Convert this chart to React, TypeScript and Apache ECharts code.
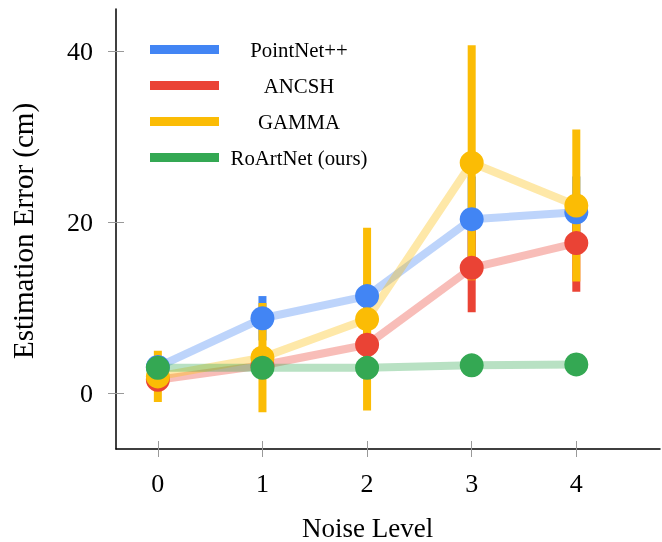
import React, { useEffect, useRef } from "react";
import * as echarts from "echarts";

const levels = [0, 1, 2, 3, 4];
const methodNames = ["PointNet++", "ANCSH", "GAMMA", "RoArtNet (ours)"];
const methodColors = ["#4285F4", "#EA4335", "#FBBC05", "#34A853"];

const pointnetMean = [3.1, 8.8, 11.4, 20.4, 21.2];
const pointnetErr = [0.6, 2.6, 1.5, 5.0, 4.2];
const ancshMean = [1.6, 3.3, 5.7, 14.7, 17.6];
const ancshErr = [0.8, 1.0, 2.0, 5.2, 5.7];
const gammaMean = [2.0, 4.2, 8.7, 27.0, 22.0];
const gammaErr = [3.0, 6.4, 10.7, 13.75, 8.9];
const roartMean = [3.0, 3.0, 3.0, 3.3, 3.4];
const roartErr = [0.5, 0.5, 0.5, 0.5, 0.5];

const yTicks = [0, 20, 40];
const xTicks = [0, 1, 2, 3, 4];

const FONT = "Liberation Serif";

export default function App() {
  const ref = useRef<HTMLDivElement>(null);
  useEffect(() => {
    if (!ref.current) return;
    const chart = echarts.init(ref.current, null, { renderer: "svg" });
    const means = [pointnetMean, ancshMean, gammaMean, roartMean];
    const errs = [pointnetErr, ancshErr, gammaErr, roartErr];

    const errorSeries = methodNames.map((name, i) => ({
      type: "custom",
      name,
      z: 1,
      xAxisIndex: 0,
      yAxisIndex: 0,
      data: levels.map((x, j) => [x, means[i][j] - errs[i][j], means[i][j] + errs[i][j]]),
      encode: { x: 0, y: [1, 2] },
      renderItem: (params: any, api: any) => {
        const x = api.value(0);
        const lo = api.coord([x, api.value(1)]);
        const hi = api.coord([x, api.value(2)]);
        return {
          type: "rect",
          shape: { x: hi[0] - 4, y: hi[1], width: 8, height: lo[1] - hi[1] },
          style: { fill: methodColors[i] },
        };
      },
    }));

    const lineSeries = methodNames.map((name, i) => ({
      type: "line",
      name,
      z: 2,
      showSymbol: false,
      symbol: "none",
      data: levels.map((x, j) => [x, means[i][j]]),
      lineStyle: { color: methodColors[i], width: 8, opacity: 0.35 },
      itemStyle: { color: methodColors[i] },
      emphasis: { disabled: true },
    }));

    const markerSeries = methodNames.map((name, i) => ({
      type: "scatter",
      name,
      z: 3,
      symbol: "circle",
      symbolSize: 24,
      data: levels.map((x, j) => [x, means[i][j]]),
      itemStyle: { color: methodColors[i], opacity: 1 },
      emphasis: { disabled: true },
    }));

    chart.setOption({
      animation: false,
      grid: { left: 116, top: 9, right: 2, bottom: 93, containLabel: false },
      xAxis: [
        {
          type: "value",
          min: -0.4,
          max: 4.8,
          splitLine: { show: false },
          axisLine: { onZero: false, lineStyle: { color: "#000", width: 1.5 } },
          axisTick: { show: true, inside: false, length: 8, customValues: xTicks, lineStyle: { color: "#999", width: 1 } },
          axisLabel: { customValues: xTicks, margin: 21, fontFamily: FONT, fontSize: 26, color: "#000" },
        },
        {
          type: "value",
          min: -0.4,
          max: 4.8,
          position: "bottom",
          splitLine: { show: false },
          axisLine: { show: false, onZero: false },
          axisTick: { show: true, inside: true, length: 8, customValues: xTicks, lineStyle: { color: "#999", width: 1 } },
          axisLabel: { show: false },
        },
      ],
      yAxis: [
        {
          type: "value",
          min: -6.5,
          max: 45,
          splitLine: { show: false },
          axisLine: { show: true, onZero: false, lineStyle: { color: "#000", width: 1.5 } },
          axisTick: { show: true, inside: false, length: 8, customValues: yTicks, lineStyle: { color: "#999", width: 1 } },
          axisLabel: { customValues: yTicks, margin: 23, fontFamily: FONT, fontSize: 26, color: "#000" },
        },
        {
          type: "value",
          min: -6.5,
          max: 45,
          position: "left",
          splitLine: { show: false },
          axisLine: { show: false, onZero: false },
          axisTick: { show: true, inside: true, length: 8, customValues: yTicks, lineStyle: { color: "#999", width: 1 } },
          axisLabel: { show: false },
        },
      ],
      legend: {
        orient: "vertical",
        left: 150,
        top: 39,
        padding: 0,
        itemGap: 15,
        itemWidth: 69,
        itemHeight: 9,
        icon: "rect",
        data: methodNames.map((name, i) => ({ name, itemStyle: { color: methodColors[i], opacity: 1 } })),
        formatter: (name: string) => `{a|${name}}`,
        textStyle: {
          rich: {
            a: { width: 150, align: "center", fontFamily: FONT, fontSize: 20.8, lineHeight: 21, color: "#000" },
          },
        },
      },
      graphic: [
        {
          type: "text",
          x: 367.7,
          y: 528,
          style: { text: "Noise Level", fontFamily: FONT, fontSize: 27, fill: "#000", align: "center", verticalAlign: "middle" },
        },
        {
          type: "text",
          x: 23,
          y: 231,
          rotation: Math.PI / 2,
          style: { text: "Estimation Error (cm)", fontFamily: FONT, fontSize: 29, fill: "#000", align: "center", verticalAlign: "middle" },
        },
      ],
      series: [...errorSeries, ...lineSeries, ...markerSeries],
    } as any);
    return () => chart.dispose();
  }, []);
  return <div ref={ref} style={{ position: "fixed", left: 0, top: 0, width: 662, height: 542 }} />;
}
